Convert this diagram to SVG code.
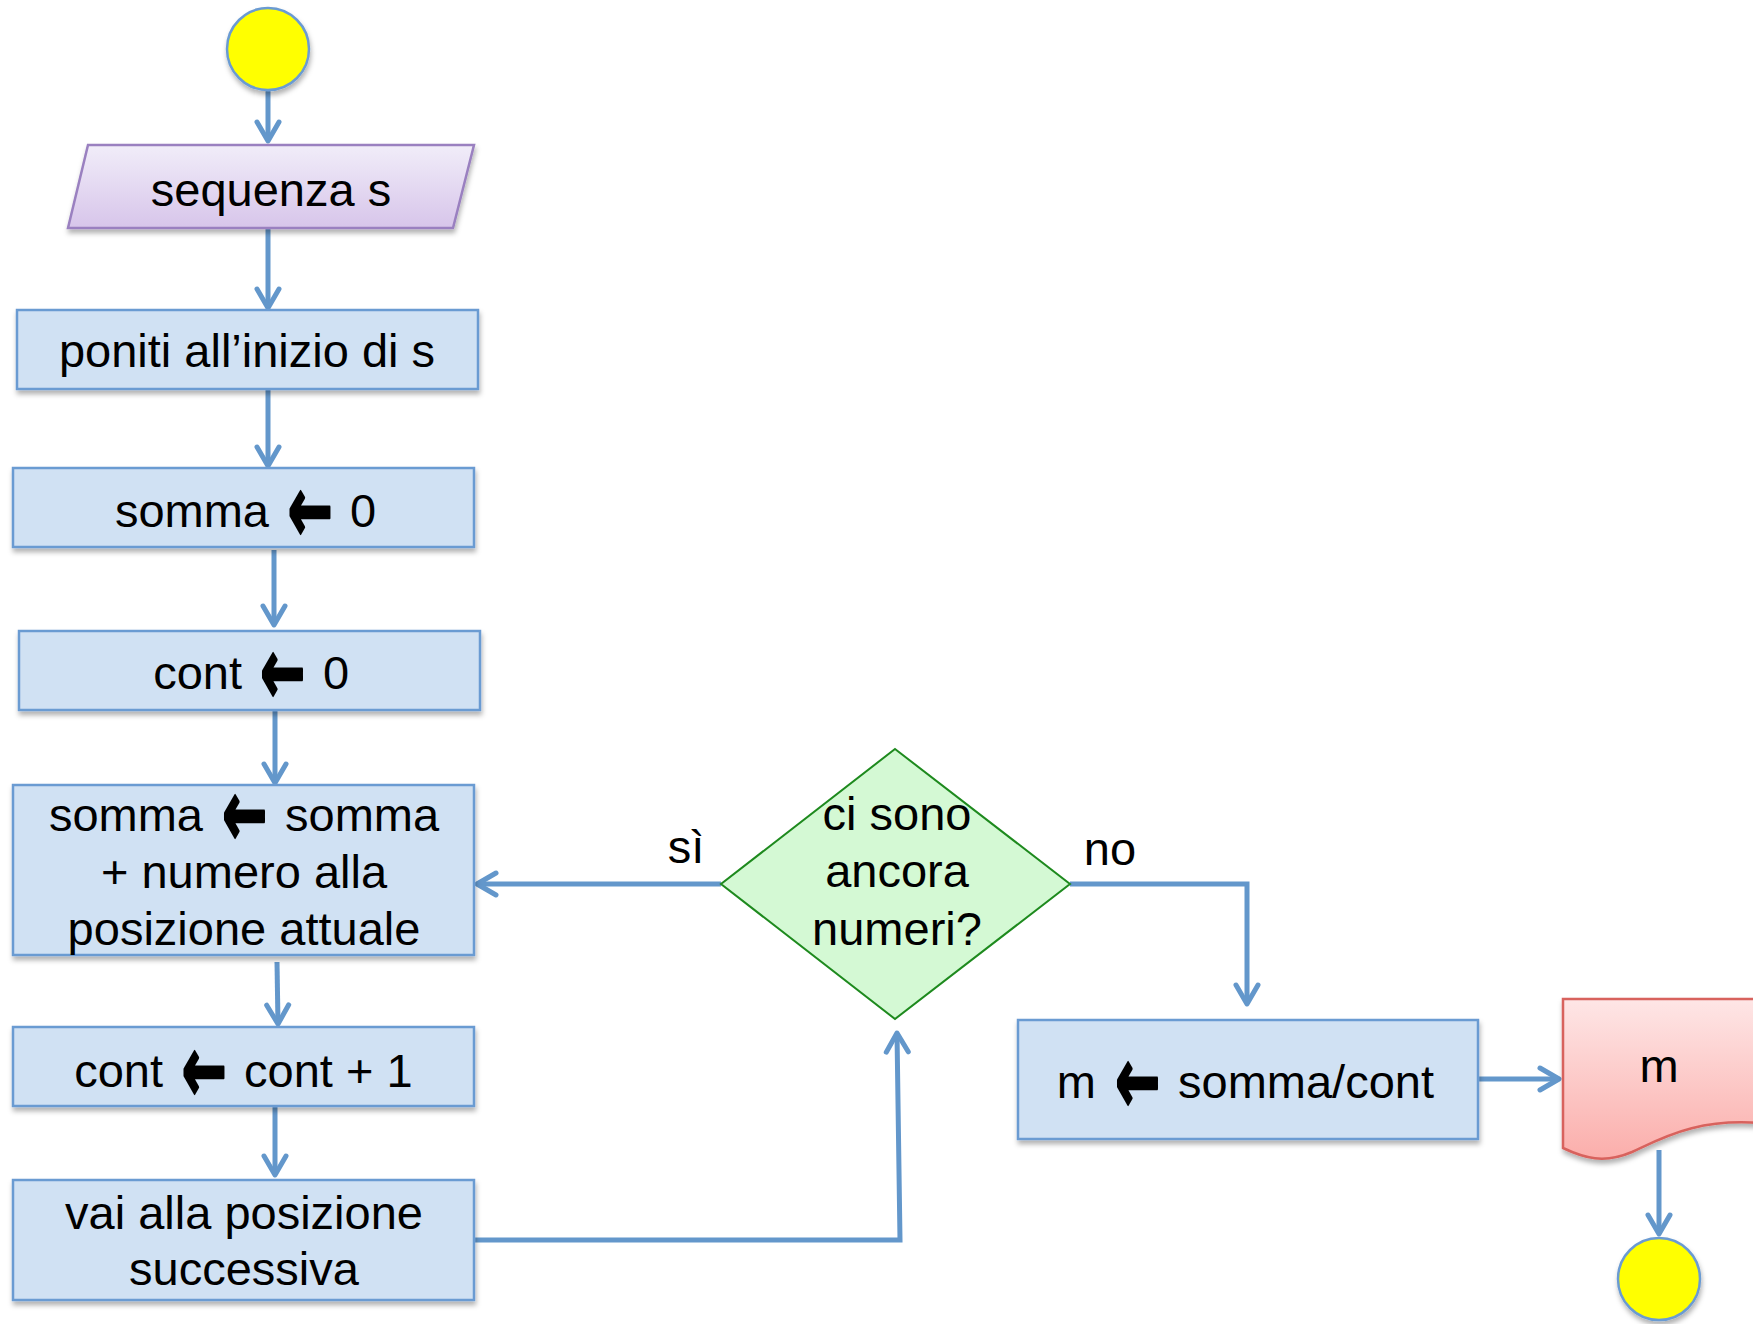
<svg xmlns="http://www.w3.org/2000/svg" width="1753" height="1324" viewBox="0 0 1753 1324">
  <defs>
    <linearGradient id="gInput" x1="0" y1="0" x2="0" y2="1">
      <stop offset="0" stop-color="#f1edf9"/>
      <stop offset="1" stop-color="#d7c5ea"/>
    </linearGradient>
    <linearGradient id="gDoc" x1="0" y1="0" x2="0" y2="1">
      <stop offset="0" stop-color="#fee6e6"/>
      <stop offset="1" stop-color="#fbaeab"/>
    </linearGradient>
    <filter id="shadow" x="-10%" y="-20%" width="120%" height="150%">
      <feDropShadow dx="1" dy="4" stdDeviation="2.5" flood-color="#000" flood-opacity="0.3"/>
    </filter>
    <marker id="arrow" markerUnits="userSpaceOnUse" markerWidth="40" markerHeight="40" refX="0" refY="0" viewBox="-26 -20 32 40" orient="auto">
      <path d="M-19,-11 L0,0 L-19,11" fill="none" stroke="#6397cb" stroke-width="5" stroke-linecap="round" stroke-linejoin="round"/>
    </marker>
  </defs>
  <style>
    .proc { fill: #d0e1f3; stroke: #6b9bd2; stroke-width: 2.5; filter: url(#shadow); }
    .term { fill: #ffff00; stroke: #6b9bd2; stroke-width: 2.5; filter: url(#shadow); }
    .lbl { font-family: "Liberation Sans", Arial, sans-serif; font-size: 47px; fill: #000; text-anchor: middle; }
    .l { text-anchor: end; }
    .r { text-anchor: start; }
    /* assignment arrow, stretched vertically around its centre */
    .arw { font-family: "DejaVu Sans", sans-serif; font-weight: bold; font-size: 54px; text-anchor: middle; fill: #000; stroke: #000; stroke-width: 1.5; stroke-linejoin: round; }
    .conn { fill: none; stroke: #6397cb; stroke-width: 5; marker-end: url(#arrow); }
  </style>

  <!-- connectors -->
  <g id="connectors">
    <path class="conn" d="M268,91 V141"/>
    <path class="conn" d="M268,229 V308"/>
    <path class="conn" d="M268,390 V466"/>
    <path class="conn" d="M274,550 V625"/>
    <path class="conn" d="M275,711 V783"/>
    <path class="conn" d="M277,962 L278,1024"/>
    <path class="conn" d="M275,1107 V1175"/>
    <path class="conn" d="M474,1240 H900 L897,1033"/>
    <path class="conn" d="M721,884 H477"/>
    <path class="conn" d="M1070,884 H1247 V1004"/>
    <path class="conn" d="M1479,1079 H1559"/>
    <path class="conn" d="M1659,1150 V1234"/>
  </g>

  <!-- start terminal -->
  <g id="start">
    <circle class="term" cx="268" cy="49" r="41"/>
  </g>

  <!-- input: sequenza s -->
  <g id="input">
    <polygon points="88,145 474,145 453,228 68,228" fill="url(#gInput)" stroke="#9a80c0" stroke-width="2.5" filter="url(#shadow)"/>
    <text class="lbl" x="271" y="206">sequenza s</text>
  </g>

  <g id="init-pos">
    <rect class="proc" x="17" y="310" width="461" height="79"/>
    <text class="lbl" x="247" y="367">poniti all’inizio di s</text>
  </g>

  <g id="init-somma">
    <rect class="proc" x="13" y="468" width="461" height="79"/>
    <text class="lbl l" x="269" y="527">somma</text>
    <text class="arw" transform="translate(310,510) scale(1,1.75)" y="18">←</text>
    <text class="lbl r" x="350" y="527">0</text>
  </g>

  <g id="init-cont">
    <rect class="proc" x="19" y="631" width="461" height="79"/>
    <text class="lbl l" x="242" y="689">cont</text>
    <text class="arw" transform="translate(282.5,672) scale(1,1.75)" y="18">←</text>
    <text class="lbl r" x="323" y="689">0</text>
  </g>

  <g id="add-somma">
    <rect class="proc" x="13" y="785" width="461" height="170"/>
    <text class="lbl l" x="203" y="831">somma</text>
    <text class="arw" transform="translate(244.5,814) scale(1,1.75)" y="18">←</text>
    <text class="lbl r" x="285" y="831">somma</text>
    <text class="lbl" x="244" y="888">+ numero alla</text>
    <text class="lbl" x="244" y="945">posizione attuale</text>
  </g>

  <g id="inc-cont">
    <rect class="proc" x="13" y="1027" width="461" height="79"/>
    <text class="lbl l" x="163" y="1087">cont</text>
    <text class="arw" transform="translate(204,1070) scale(1,1.75)" y="18">←</text>
    <text class="lbl r" x="244" y="1087">cont + 1</text>
  </g>

  <g id="next-pos">
    <rect class="proc" x="13" y="1180" width="461" height="120"/>
    <text class="lbl" x="244" y="1229">vai alla posizione</text>
    <text class="lbl" x="244" y="1285">successiva</text>
  </g>

  <!-- decision -->
  <g id="decision">
    <polygon points="895,749 1070,884 895,1019 721,884" fill="#d4f9d4" stroke="#1e8a1e" stroke-width="2"/>
    <text class="lbl" x="897" y="830">ci sono</text>
    <text class="lbl" x="897" y="887">ancora</text>
    <text class="lbl" x="897" y="945">numeri?</text>
  </g>

  <g id="edge-labels">
    <text class="lbl" x="686" y="863">sì</text>
    <text class="lbl" x="1110" y="865">no</text>
  </g>

  <g id="media">
    <rect class="proc" x="1018" y="1020" width="460" height="119"/>
    <text class="lbl l" x="1096" y="1098">m</text>
    <text class="arw" transform="translate(1137.5,1081) scale(1,1.75)" y="18">←</text>
    <text class="lbl r" x="1178" y="1098">somma/cont</text>
  </g>

  <!-- output document -->
  <g id="output">
    <path d="M1563,999 H1770 V1124 C1700,1116 1662,1138 1632,1152 C1604,1164 1584,1158 1563,1148 Z" fill="url(#gDoc)" stroke="#d8625d" stroke-width="2.5" filter="url(#shadow)"/>
    <text class="lbl" x="1659" y="1082">m</text>
  </g>

  <!-- end terminal -->
  <g id="end">
    <circle class="term" cx="1659" cy="1279" r="41"/>
  </g>
</svg>
